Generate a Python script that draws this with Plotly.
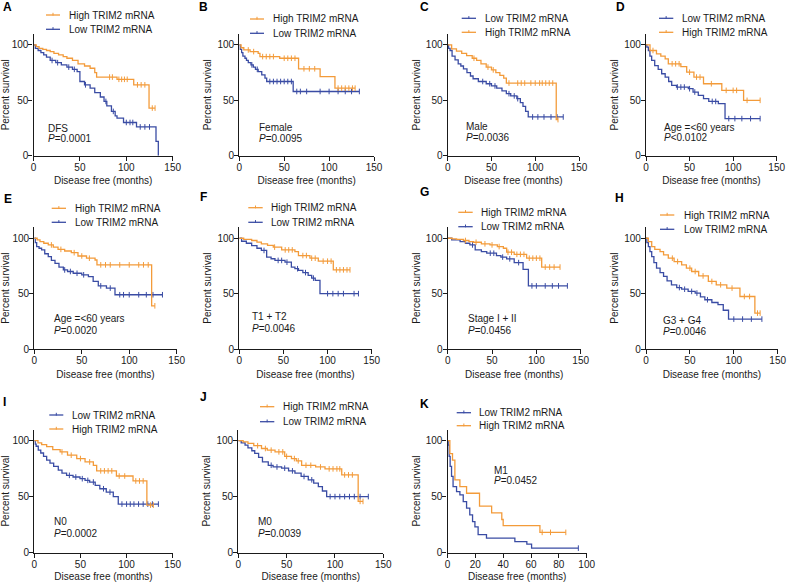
import plotly.graph_objects as go

W, H = 788, 582
ORANGE = "#F39B3A"
BLUE = "#3A4CA4"
FONT = "Liberation Sans, Arial, Helvetica, sans-serif"

# ---------------- data (months, percent survival) ----------------
A_high_t = [0, 3, 6, 10, 14, 18, 22, 27, 32, 36, 42, 48, 55, 61, 66, 68, 90, 108, 124.5]
A_high_s = [100, 98.5, 97, 96, 95, 94, 92.5, 91, 89.5, 88, 86, 83, 81, 79, 75, 71, 69, 64, 43]
A_high_end = 131
A_high_cens = [82, 85, 92, 95, 98, 101, 112, 116, 120, 128, 131]
A_low_t = [0, 2, 5, 8, 11, 14, 18, 24, 30, 36, 42, 47, 50, 55, 61, 66, 72, 76, 79, 84, 88, 90, 97, 111, 132, 134.5]
A_low_s = [100, 97, 95, 93, 91, 89, 86, 84, 82, 80, 78, 76, 67, 64, 61, 57, 53, 49, 45, 40, 36, 34, 30, 26, 13, 0]
A_low_end = 134.5
A_low_cens = [20, 26, 38, 44, 56, 78, 86, 100, 104, 107, 115, 120, 125]

B_high_t = [0, 2, 5, 12, 21, 23, 45, 66, 90, 106.5]
B_high_s = [100, 97.5, 95.5, 94, 92.5, 89.5, 88, 78.5, 71.5, 61]
B_high_end = 129
B_high_cens = [10, 16, 26, 30, 34, 38, 50, 54, 58, 62, 72, 78, 84, 110, 114, 118, 122, 126, 129]
B_low_t = [0, 1, 2.6, 4, 6.3, 8, 10, 13, 15.6, 18, 21, 25, 28.6, 30.5, 60]
B_low_s = [100, 96, 93, 90, 88, 86, 84, 82, 80, 78, 76, 73, 70, 67, 58]
B_low_end = 133.7
B_low_cens = [14, 20, 34, 38, 42, 46, 50, 54, 58, 64, 68, 75, 90, 100, 110, 118, 125, 133.7]

C_low_t = [0, 1, 2.7, 5, 8.4, 12, 15, 18, 22, 26, 29, 35, 44, 50, 56, 62, 67, 72, 79, 83, 86, 89, 92]
C_low_s = [100, 97, 95, 90, 86.5, 83, 81, 78.5, 75, 72, 69.5, 67, 65, 63, 61, 58.5, 56, 54, 51.5, 48, 44.6, 40, 35]
C_low_end = 132
C_low_cens = [40, 48, 54, 70, 76, 80, 97, 103, 110, 118, 125, 132]
C_high_t = [0, 4.5, 10, 16, 21.6, 28, 33, 38, 44, 50, 55, 59.6, 64, 67, 124]
C_high_s = [100, 96.4, 94.5, 92.5, 90.4, 88, 86, 83, 80, 77.5, 75, 72.5, 70, 65.6, 32.6]
C_high_end = 126
C_high_cens = [30, 46, 52, 70, 80, 84, 88, 95, 100, 105, 108, 112, 116, 120, 126]

D_low_t = [0, 1, 2.7, 4.5, 6.5, 10, 14, 18, 22, 26, 29.5, 35, 48.6, 54, 60, 66, 72, 83, 90.7]
D_low_s = [100, 98, 95, 90, 86, 81.4, 78, 74, 71, 67, 63.5, 62, 60.5, 57.5, 54.5, 51.5, 49, 47, 33.5]
D_low_end = 131
D_low_cens = [36, 40, 44, 50, 56, 76, 80, 95, 102, 110, 120, 131]
D_high_t = [0, 4.6, 12, 17, 22, 25.6, 40, 46.7, 55, 66, 87, 112]
D_high_s = [100, 95, 92, 90, 87.4, 83, 80.5, 75.4, 71, 65, 59, 50]
D_high_end = 131
D_high_cens = [8, 30, 34, 38, 50, 58, 62, 75, 92, 100, 104, 116, 131]

E_high_t = [0, 3, 6, 10, 14.7, 20, 25, 32, 39, 46, 55, 64, 66, 123.6]
E_high_s = [100, 98.5, 97, 95.5, 94, 92, 90, 88.5, 87, 84, 82, 80.4, 76, 39]
E_high_end = 127
E_high_cens = [18, 28, 42, 50, 58, 70, 75, 80, 90, 100, 110, 115, 120, 127]
E_low_t = [0, 1, 2.5, 5, 7.7, 11, 14.7, 18, 21.8, 26, 30.6, 35, 41, 50, 57, 62, 67.4, 76, 85]
E_low_s = [100, 96, 92.5, 91, 89.5, 86, 83.4, 80, 77.4, 74, 71.4, 70, 68.4, 67, 65.4, 61, 57, 55, 49]
E_low_end = 135
E_low_cens = [32, 38, 45, 52, 70, 80, 90, 94, 100, 110, 118, 125, 135]

F_high_t = [0, 5, 14, 20, 25, 32, 38.5, 48, 63, 67, 80, 89.5, 106.5]
F_high_s = [100, 99, 98, 96.5, 95, 93.5, 92, 89.5, 88, 84.4, 82, 79.3, 71.5]
F_high_end = 125.4
F_high_cens = [40, 52, 56, 60, 72, 76, 82, 86, 95, 100, 104, 110, 114, 118, 122, 125.4]
F_low_t = [0, 2.6, 8, 14, 20, 25, 31, 36, 40.4, 51.8, 59, 63, 67, 72, 78, 82, 86, 91.4]
F_low_s = [100, 97.3, 95.5, 93.4, 91, 89, 83, 81.5, 80, 78.4, 74, 72.5, 71, 69, 66.5, 64, 62, 50]
F_low_end = 135
F_low_cens = [28, 44, 48, 54, 66, 75, 84, 100, 106, 112, 118, 130, 135]

G_high_t = [0, 5, 10, 17.7, 24, 29, 38, 47.7, 56, 62.8, 66.5, 75, 89, 106]
G_high_s = [100, 99.5, 99, 98, 97, 96.4, 95, 94, 92.5, 91, 87.4, 85.5, 82, 74]
G_high_end = 126.7
G_high_cens = [20, 32, 42, 50, 58, 68, 72, 78, 82, 86, 92, 96, 100, 104, 110, 115, 120, 126.7]
G_low_t = [0, 4.5, 14, 20, 25, 31, 38, 44, 55, 60, 66.5, 75, 85, 91]
G_low_s = [100, 98.5, 97, 95.5, 94, 89.5, 88, 86.5, 84.4, 83, 81.4, 78, 72, 57]
G_low_end = 135
G_low_cens = [28, 48, 52, 62, 70, 80, 95, 100, 110, 118, 125, 135]

H_high_t = [0, 2.7, 6.5, 10, 16, 20, 25.4, 32, 40.6, 46, 52, 60, 71, 80, 92, 107, 124]
H_high_s = [100, 97, 92.5, 90, 88, 85, 82, 79, 76, 73, 70, 66, 61, 58, 55, 47.4, 32.4]
H_high_end = 130
H_high_cens = [30, 36, 50, 56, 65, 75, 85, 98, 112, 118, 127, 130]
H_low_t = [0, 1, 2.7, 4.5, 6.5, 9, 12, 16, 20, 24, 29, 35, 40.6, 48, 56, 62, 67, 75, 82, 88, 94]
H_low_s = [100, 96, 92.5, 88, 83.5, 78, 73, 69, 65.5, 61.5, 58, 55.5, 54, 52, 50.5, 47, 44.5, 42, 40, 35, 27]
H_low_end = 132
H_low_cens = [38, 44, 52, 58, 70, 100, 110, 120, 132]

I_high_t = [0, 4, 8, 13.4, 20, 28, 36, 46, 55, 64, 67.6, 89, 107, 122]
I_high_s = [100, 98, 96.5, 94.6, 92, 90, 87, 84, 81, 78, 73, 68.4, 64, 42.4]
I_high_end = 129
I_high_cens = [30, 40, 50, 60, 72, 76, 80, 84, 92, 98, 110, 114, 118, 126, 129]
I_low_t = [0, 1, 2, 4.3, 7, 10, 13.4, 17, 21, 26, 30, 35, 42, 49.5, 55, 60, 66, 71, 78, 85.6, 91]
I_low_s = [100, 97, 95, 91.6, 89, 86, 82.7, 80, 77, 73.7, 71, 69, 67.5, 66, 64.5, 63, 60, 57, 54, 50, 43.3]
I_low_end = 134.5
I_low_cens = [38, 45, 52, 58, 64, 75, 82, 95, 100, 104, 108, 113, 118, 123, 128, 134.5]

J_high_t = [0, 5, 10, 16, 24, 30, 38, 48, 55, 60, 65.5, 80, 89.7, 107, 124]
J_high_s = [100, 99, 97.6, 95.5, 93, 91.5, 90, 86, 84, 82, 78, 76.5, 74.8, 69.4, 45.7]
J_high_end = 129
J_high_cens = [20, 28, 34, 42, 46, 50, 58, 62, 70, 75, 85, 94, 98, 102, 105, 110, 114, 118, 126, 129]
J_low_t = [0, 3, 7, 10, 14, 17, 21, 25, 31, 36, 44.8, 52, 58.6, 65, 72.4, 78, 82.8, 87, 91.4]
J_low_s = [100, 98, 96, 93.5, 91, 88.7, 85, 81, 78, 76.5, 75.4, 73, 71, 68, 65, 62, 59, 55, 50]
J_low_end = 134.5
J_low_cens = [34, 40, 48, 56, 68, 76, 95, 100, 105, 110, 115, 120, 126, 134.5]

K_high_t = [0, 1.7, 3.6, 5.3, 8.9, 13.7, 23, 31.7, 39, 40, 66.4]
K_high_s = [100, 88.5, 82.7, 65, 59, 53, 41.5, 35.5, 29.5, 24, 18]
K_high_end = 85
K_high_cens = [68, 74, 85]
K_low_t = [0, 0.5, 1.2, 1.9, 2.9, 4, 6.5, 8.9, 11.3, 13.7, 16, 18, 19.7, 22, 28, 48.4, 57, 60.4]
K_low_s = [100, 96, 86, 77, 68, 59, 54.5, 51.5, 45.5, 39.6, 33.6, 27.7, 23, 16, 12.8, 9.8, 7.5, 3.9]
K_low_end = 94
K_low_cens = [94]

panel_notes = {
    "A": ("DFS", "<i>P</i>=0.0001"), "B": ("Female", "<i>P</i>=0.0095"),
    "C": ("Male", "<i>P</i>=0.0036"), "D": ("Age =<60 years", "<i>P</i><0.0102"),
    "E": ("Age =<60 years", "<i>P</i>=0.0020"), "F": ("T1 + T2", "<i>P</i>=0.0046"),
    "G": ("Stage I + II", "<i>P</i>=0.0456"), "H": ("G3 + G4", "<i>P</i>=0.0046"),
    "I": ("N0", "<i>P</i>=0.0002"), "J": ("M0", "<i>P</i>=0.0039"),
    "K": ("M1", "<i>P</i>=0.0452"),
}
series_names = {"high": "High TRIM2 mRNA", "low": "Low TRIM2 mRNA"}
x_ticks_main = [0, 50, 100, 150]
x_ticks_k = [0, 20, 40, 60, 80, 100]
y_ticks = [0, 50, 100]

g = globals()

# ---------------- layout (pixel positions) ----------------
ROW1 = (33.9, 155.7)
ROW2 = (227.2, 349.0)
ROW3 = (429.5, 552.5)
spec = [
    # key, x0, x1, row, xmax, label(x,y), legend(lx0,lx1,tx,y1,y2), order, note(x,y1,y2)
    ("A", 33.5, 172.7, ROW1, 150, (1, 7), (46, 60, 66.7, 15, 29.3), ("high", "low"), (45.7, 128, 138)),
    ("B", 239.3, 374.0, ROW1, 150, (197, 7), (250, 264, 271, 19, 33.3), ("high", "low"), (256.7, 127.7, 138)),
    ("C", 447.7, 579.0, ROW1, 150, (418, 7), (461.7, 476, 482.7, 18.3, 32.3), ("low", "high"), (464, 126.7, 137)),
    ("D", 646.0, 776.7, ROW1, 150, (614, 7), (659, 673.3, 680, 18.3, 32.3), ("low", "high"), (662.3, 127.7, 137)),
    ("E", 34.3, 176.7, ROW2, 150, (2, 199), (51.7, 66, 72.7, 208.3, 222.3), ("high", "low"), (51.7, 318.3, 330)),
    ("F", 239.3, 371.7, ROW2, 150, (198, 197), (248.3, 262.7, 269, 207.7, 222.3), ("high", "low"), (250, 316.7, 328)),
    ("G", 447.7, 580.7, ROW2, 150, (418, 192), (458.3, 472.7, 479.3, 212.3, 226.7), ("high", "low"), (466, 318.3, 330)),
    ("H", 646.0, 777.7, ROW2, 150, (613, 198), (660, 674.3, 681.7, 215, 229.3), ("high", "low"), (661, 320, 331)),
    ("I", 34.3, 172.7, ROW3, 150, (1, 402), (49.3, 63.3, 70, 415, 429), ("low", "high"), (51.7, 521.7, 533.3)),
    ("J", 238.3, 383.3, ROW3, 150, (198, 397), (260, 274.3, 281, 406.7, 421.7), ("high", "low"), (256, 521.7, 533.3)),
    ("K", 447.5, 586.7, ROW3, 100, (418, 404), (456.7, 471, 477.3, 412.7, 425.7), ("low", "high"), (491.7, 470, 480)),
]
colors = {"high": ORANGE, "low": BLUE}


def fx(x):
    return x / W


def fy(y):
    return 1 - y / H


def surv_at(ts, ss, c):
    v = ss[0]
    for t, s in zip(ts, ss):
        if t <= c:
            v = s
    return v


fig = go.Figure()
annotations = []
shapes = []
layout_axes = {}

for i, (key, x0, x1, row, xmax, lab, leg, order, note) in enumerate(spec):
    n = i + 1
    xa = "x" if n == 1 else f"x{n}"
    ya = "y" if n == 1 else f"y{n}"
    for grp in ("low", "high"):
        ts = g[f"{key}_{grp}_t"]
        ss = g[f"{key}_{grp}_s"]
        end = g[f"{key}_{grp}_end"]
        cens = g[f"{key}_{grp}_cens"]
        xs = list(ts) + ([end] if end > ts[-1] else [])
        ys = list(ss) + ([ss[-1]] if end > ts[-1] else [])
        fig.add_trace(go.Scatter(
            x=xs, y=ys, mode="lines", line=dict(color=colors[grp], width=1.3, shape="hv"),
            name=series_names[grp], showlegend=False, xaxis=xa, yaxis=ya, hoverinfo="skip"))
        fig.add_trace(go.Scatter(
            x=cens, y=[surv_at(ts, ss, c) for c in cens], mode="markers",
            marker=dict(symbol="line-ns-open", size=4, color=colors[grp],
                        line=dict(color=colors[grp], width=1)),
            name=series_names[grp] + " censored", showlegend=False, xaxis=xa, yaxis=ya,
            cliponaxis=False, hoverinfo="skip"))
    ytop, ybot = row
    xkey = "xaxis" if n == 1 else f"xaxis{n}"
    ykey = "yaxis" if n == 1 else f"yaxis{n}"
    common = dict(showline=True, linecolor="#1a1a1a", linewidth=1.3, ticks="outside", ticklen=4,
                  tickwidth=1.3, tickcolor="#1a1a1a", showgrid=False, zeroline=False,
                  tickfont=dict(size=10, color="#1a1a1a", family=FONT), automargin=False,
                  fixedrange=True, ticklabelstandoff=-2)
    layout_axes[xkey] = dict(common, domain=[fx(x0), fx(x1)], range=[0, xmax], anchor=ya,
                             tickvals=x_ticks_k if key == "K" else x_ticks_main,
                             title=dict(text="Disease free (months)", standoff=5,
                                        font=dict(size=10, color="#1a1a1a", family=FONT)))
    layout_axes[ykey] = dict(common, domain=[fy(ybot), fy(ytop)], range=[0, 110], anchor=xa,
                             tickvals=y_ticks,
                             title=dict(text="Percent survival", standoff=3,
                                        font=dict(size=10, color="#1a1a1a", family=FONT)))
    # panel letter
    annotations.append(dict(x=fx(lab[0]), y=fy(lab[1]), xref="paper", yref="paper", text=f"<b>{key}</b>",
                            showarrow=False, xanchor="left", yanchor="middle",
                            font=dict(size=12, color="#000", family=FONT)))
    # legend
    lx0, lx1, tx, ly1, ly2 = leg
    for grp, ly in zip(order, (ly1, ly2)):
        c = colors[grp]
        shapes.append(dict(type="line", xref="paper", yref="paper", x0=fx(lx0), x1=fx(lx1), y0=fy(ly), y1=fy(ly),
                           line=dict(color=c, width=1.3)))
        mid = (lx0 + lx1) / 2
        shapes.append(dict(type="line", xref="paper", yref="paper", x0=fx(mid), x1=fx(mid), y0=fy(ly - 2.2), y1=fy(ly + 0.6),
                           line=dict(color=c, width=1)))
        annotations.append(dict(x=fx(tx), y=fy(ly), xref="paper", yref="paper", text=series_names[grp],
                                showarrow=False, xanchor="left", yanchor="middle",
                                font=dict(size=10, color="#1a1a1a", family=FONT)))
    # notes
    nx, ny1, ny2 = note
    for txt, yy in zip(panel_notes[key], (ny1, ny2)):
        annotations.append(dict(x=fx(nx), y=fy(yy), xref="paper", yref="paper", text=txt,
                                showarrow=False, xanchor="left", yanchor="middle",
                                font=dict(size=10, color="#1a1a1a", family=FONT)))

fig.update_layout(
    width=W, height=H, margin=dict(l=0, r=0, t=0, b=0),
    paper_bgcolor="white", plot_bgcolor="white",
    font=dict(family=FONT, size=10, color="#1a1a1a"),
    showlegend=False, annotations=annotations, shapes=shapes, **layout_axes)

fig.write_html("out.html", config={"displayModeBar": False},
               post_script="document.body.style.margin='0';document.body.style.overflow='hidden';")
